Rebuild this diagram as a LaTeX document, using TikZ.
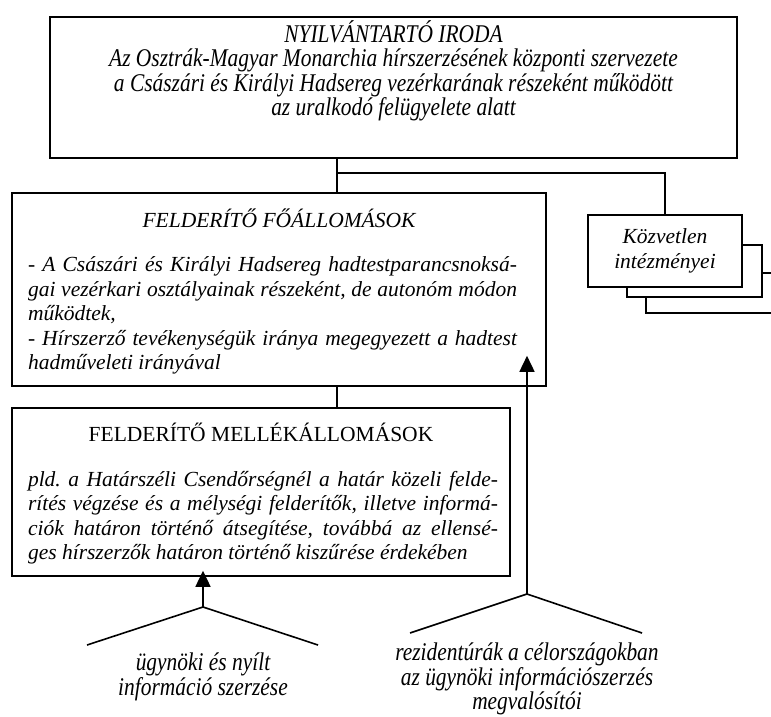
\documentclass[tikz,border=0pt]{standalone}
\usepackage{fontspec}
\setmainfont{Liberation Serif}
\newfontfamily\narrowserif{Liberation Serif}[FakeStretch=0.84]
\usetikzlibrary{positioning,arrows.meta}
\setlength{\parindent}{0pt}
\frenchspacing

\tikzset{
  box/.style={draw,line width=1.6pt,inner sep=0pt},
  conn/.style={line width=1.6pt},
  feed/.style={line width=1.6pt,-{Triangle[width=15pt,length=16pt]}},
  txt/.style={font=\fontsize{21.5}{24.5}\selectfont\itshape,inner sep=0pt,align=center},
  narrowtxt/.style={font=\narrowserif\fontsize{25.5}{24.5}\selectfont\itshape,inner sep=0pt,align=center},
  body/.style={font=\fontsize{21.5}{24.5}\selectfont\itshape,inner sep=0pt,align=justify}
}

\begin{document}
\begin{tikzpicture}[x=1pt,y=-1pt]
\useasboundingbox (0,0) rectangle (771,717);

% main boxes
\node[box,minimum width=687pt,minimum height=141pt] (iroda) at (393.5,87.5) {};
\node[box,minimum width=534pt,minimum height=193pt] (fo) at (279,289.5) {};
\node[box,minimum width=498pt,minimum height=168pt] (mellek) at (261,492) {};

% stacked boxes on the right
\node[box,fill=white,minimum width=144pt,minimum height=40pt] (intezmeny3) at (718,293) {};
\node[box,fill=white,minimum width=135pt,minimum height=52pt] (intezmeny2) at (694.5,271) {};
\node[box,fill=white,minimum width=154pt,minimum height=72pt,txt] (intezmeny) at (665,251) {K\"ozvetlen\\int\'ezm\'enyei};

% texts in the boxes
\node[narrowtxt] (irodatext) at (393.5,71) {NYILV\'ANTART\'O IRODA\\
  Az Osztr\'ak-Magyar Monarchia h\'irszerz\'es\'enek k\"ozponti szervezete\\
  a Cs\'asz\'ari \'es Kir\'alyi Hadsereg vez\'erkar\'anak r\'eszek\'ent m\H{u}k\"od\"ott\\
  az uralkod\'o fel\"ugyelete alatt};
\node[txt] (fotitle) at (279,218) {FELDER\'IT\H{O} F\H{O}\'ALLOM\'ASOK};
\node[body,text width=489pt] (fotext) at (272.5,315.5) {- A Cs\'asz\'ari \'es Kir\'alyi Hadsereg hadtestparancsnoks\'a-\linebreak
  gai vez\'erkari oszt\'alyainak r\'eszek\'ent, de auton\'om m\'odon
  m\H{u}k\"odtek,\par
  - H\'irszerz\H{o} tev\'ekenys\'eg\"uk ir\'anya megegyezett a hadtest
  hadm\H{u}veleti ir\'any\'aval};
\node[txt,font=\fontsize{21.5}{24.5}\selectfont\upshape] (mellektitle) at (261,432) {FELDER\'IT\H{O} MELL\'EK\'ALLOM\'ASOK};
\node[body,text width=470pt] (mellektext) at (263,517.5) {pld. a Hat\'arsz\'eli Csend\H{o}rs\'egn\'el a hat\'ar k\"ozeli felde-\linebreak
  r\'it\'es v\'egz\'ese \'es a m\'elys\'egi felder\'it\H{o}k, illetve inform\'a-\linebreak
  ci\'ok hat\'aron t\"ort\'en\H{o} \'atseg\'it\'ese, tov\'abb\'a az ellens\'e-\linebreak
  ges h\'irszerz\H{o}k hat\'aron t\"ort\'en\H{o} kisz\H{u}r\'ese \'erdek\'eben};

% sources at the bottom
\coordinate (ugynok) at (203,607);
\coordinate (ugynokbal) at (87,645);
\coordinate (ugynokjobb) at (318,645);
\node[narrowtxt] (ugynoktext) at (203,677) {\"ugyn\"oki \'es ny\'ilt\\inform\'aci\'o szerz\'ese};
\coordinate (rezid) at (527,594);
\coordinate (rezidbal) at (410,633);
\coordinate (rezidjobb) at (642,633);
\node[narrowtxt] (rezidtext) at (527,679) {rezident\'ur\'ak a c\'elorsz\'agokban\\az \"ugyn\"oki inform\'aci\'oszerz\'es\\megval\'os\'it\'oi};

% connectors
\coordinate (elag) at (337,173);
\draw[conn] (iroda.south -| elag) -- (fo.north -| elag);
\draw[conn] (elag) -| (intezmeny.north);
\draw[conn] (fo.south -| elag) -- (mellek.north -| elag);
\draw[conn] (ugynokbal) -- (ugynok) -- (ugynokjobb);
\draw[conn] (rezidbal) -- (rezid) -- (rezidjobb);
\draw[feed] (ugynok) -- ([yshift=6pt]ugynok |- mellek.south);
\draw[feed] (rezid) -- ([yshift=31pt]rezid |- fo.south);
\end{tikzpicture}
\end{document}
